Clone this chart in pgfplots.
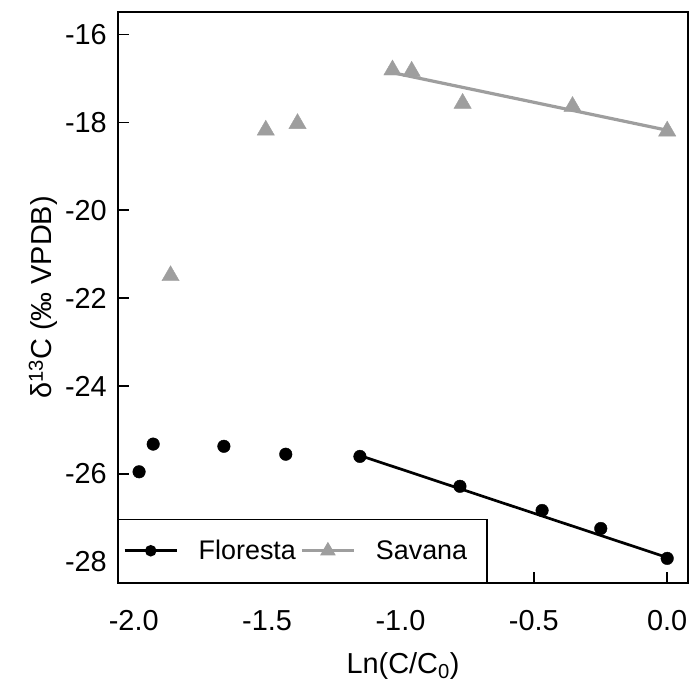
\documentclass[border=0pt]{standalone}
\usepackage{fontspec}
\setmainfont{Liberation Sans}
\usepackage{pgfplots}
\pgfplotsset{compat=1.18}
\definecolor{savgray}{HTML}{9E9E9E}

\newcommand{\bigfont}{\fontsize{29}{34}\selectfont}
\newcommand{\legfont}{\fontsize{27}{32}\selectfont}

\begin{document}
\begin{tikzpicture}
\begin{axis}[
  name=ax,
  scale only axis, width=570bp, height=571bp,
  xmin=-2.059, xmax=0.078, ymin=-28.48, ymax=-15.49,
  xtick={-2,-1.5,-1,-0.5,0},
  xticklabels={-2.0,-1.5,-1.0,-0.5,0.0},
  ytick={-28,-26,-24,-22,-20,-18,-16},
  yticklabels={-28,-26,-24,-22,-20,-18,-16},
  tick align=inside, major tick length=11bp,
  xtick pos=left, ytick pos=left,
  axis line style={line width=1.5bp},
  tick style={line width=1.5bp, black},
  xticklabel style={font=\bigfont, inner sep=0pt, anchor=north, yshift=-27bp},
  yticklabel style={font=\bigfont, inner sep=0pt, anchor=east, xshift=-11bp},
  xlabel={Ln(C/C\textsubscript{0})},
  ylabel={δ\textsuperscript{13}C (‰ VPDB)},
  xlabel style={font=\bigfont, at={(axis description cs:0.5,0)}, anchor=north,
    inner sep=0pt, yshift=-69bp},
  ylabel style={font=\bigfont, at={(axis description cs:-0.1053,0.5)}, anchor=south,
    inner sep=0pt},
  legend style={at={(0,0)}, anchor=south west, draw=black, line width=1.5bp,
    font=\legfont, inner xsep=0pt, inner ysep=21bp, column sep=0pt,
    nodes={inner sep=0pt}, legend cell align=left},
  legend columns=2,
  legend image code/.code={
    \path[draw=none, fill=none] (-6bp,0bp) -- (74bp,0bp);
    \draw[#1, mark=none, line width=3bp] (0bp,0bp) -- (52bp,0bp);
    \path[#1] plot coordinates {(26bp,0bp)};},
]
% Floresta
\addplot[only marks, mark=*, mark size=6.3bp, black, forget plot]
  coordinates {(-1.980,-25.95)(-1.927,-25.32)(-1.662,-25.37)(-1.430,-25.55)
               (-1.152,-25.60)(-0.777,-26.28)(-0.469,-26.83)(-0.249,-27.24)(0,-27.92)};
\addplot[black, line width=2.7bp, forget plot]
  coordinates {(-1.152,-25.58)(0,-27.90)};
% Savana
\addplot[only marks, mark=triangle*, mark size=10bp, savgray, forget plot]
  coordinates {(-1.862,-21.49)(-1.505,-18.18)(-1.386,-18.03)(-1.030,-16.81)
               (-0.958,-16.84)(-0.767,-17.57)(-0.355,-17.64)(0,-18.20)};
\addplot[savgray, line width=3.2bp, forget plot]
  coordinates {(-1.030,-16.87)(0,-18.18)};
\addlegendimage{black, mark=*, mark size=5bp}
\addlegendentry{Floresta}
\addlegendimage{savgray, mark=triangle*, mark size=7.5bp}
\addlegendentry{Savana\rule{20bp}{0pt}}
\end{axis}
\pgfresetboundingbox
\path (ax.south west) ++(-118bp,-111bp) rectangle ([xshift=4bp,yshift=12bp]ax.north east);
\end{tikzpicture}
\end{document}
